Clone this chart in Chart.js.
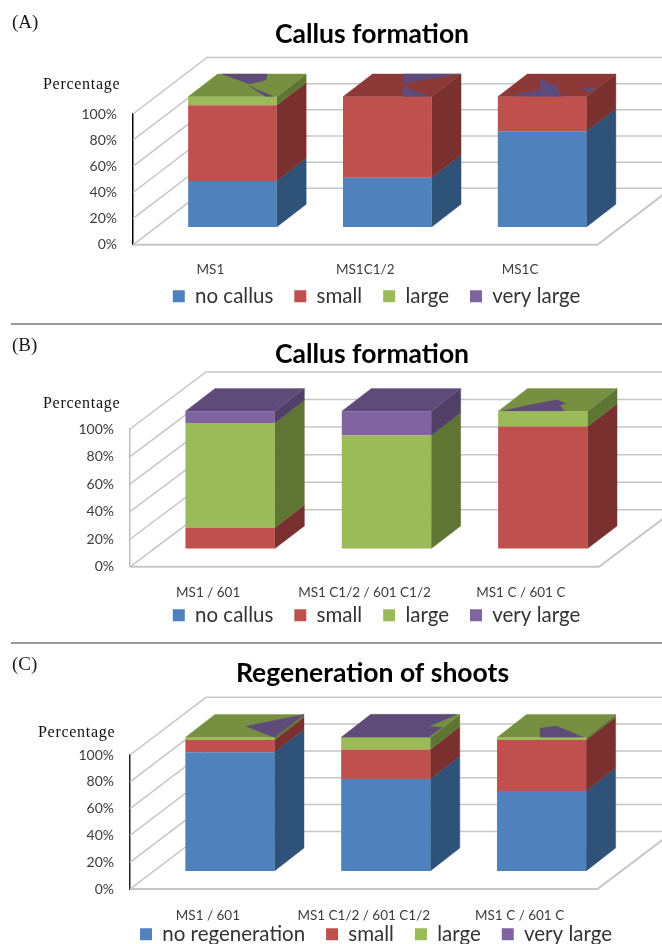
<!DOCTYPE html>
<html><head><meta charset="utf-8">
<style>
html,body{margin:0;padding:0;background:#fff;width:662px;height:944px;overflow:hidden}
canvas{position:absolute;left:0;filter:blur(0.35px)}
.tag,.ptitle{position:absolute;font-family:"Liberation Serif",serif;color:#1a1a1a;white-space:nowrap;filter:blur(0.3px)}
.tag{font-size:19px;line-height:22px}
.ptitle{font-size:16px;letter-spacing:.7px;line-height:18px;color:#111}
.rule{position:absolute;left:11px;right:0;height:2px;background:#9a9a9a}
</style>
</head><body>
<div class="tag" style="left:12px;top:11px">(A)</div>
<div class="tag" style="left:12px;top:334px">(B)</div>
<div class="tag" style="left:12px;top:653px">(C)</div>
<div class="ptitle" style="left:43px;top:75px">Percentage</div>
<div class="ptitle" style="left:43px;top:394px">Percentage</div>
<div class="ptitle" style="left:38px;top:723px">Percentage</div>
<div class="rule" style="top:323px"></div>
<div class="rule" style="top:642px"></div>
<canvas id="a" width="662" height="400" style="top:0"></canvas>
<canvas id="b" width="662" height="400" style="top:323px"></canvas>
<canvas id="c" width="662" height="400" style="top:642px"></canvas>
<script src="https://cdn.jsdelivr.net/npm/chart.js@4"></script>
<script>
// ---------- data ----------
const titleA = "Callus formation";
const titleB = "Callus formation";
const titleC = "Regeneration of shoots";
const categoriesA = ["MS1", "MS1C1/2", "MS1C"];
const categoriesB = ["MS1 / 601", "MS1 C1/2 / 601 C1/2", "MS1 C / 601 C"];
const categoriesC = ["MS1 / 601", "MS1 C1/2 / 601 C1/2", "MS1 C / 601 C"];
const seriesAB = ["no callus", "small", "large", "very large"];
const seriesC = ["no regeneration", "small", "large", "very large"];
const noneA = [35.5, 38, 73.5];
const smallA = [58, 62, 26.5];
const largeA = [6.5, 0, 0];
const veryLargeA = [0, 0, 0];
const noneB = [0, 0, 0];
const smallB = [15.5, 0, 89];
const largeB = [76, 82.5, 11];
const veryLargeB = [8.5, 17.5, 0];
const noneC = [89, 69, 60];
const smallC = [9, 22, 38];
const largeC = [2, 9, 2];
const veryLargeC = [0, 0, 0];
const yTicks = [0, 20, 40, 60, 80, 100];

// ---------- look ----------
const front = ["#4F81BD", "#C0504D", "#9BBB59", "#8064A2"];
const side  = ["#2F5279", "#7A302E", "#5F7533", "#503F66"];
const top3d = ["#3A618F", "#8C3836", "#778F41", "#5F4B7A"];
const patchColor = "#5F4B7A";
const wallColor = "#C6C6C6";
const textColor = "#3c3c3c";

// Rendering glitches on the bar caps of the original, as fractions of each cap (u across, v into depth)
const capGlitchA = [
  [[[.05,1],[.56,1],[.636,.735],[.505,.56]], [[.53,.47],[.967,0],[.88,0]]],
  [[[.346,1],[.986,1],[.483,.59]], [[.52,.47],[.986,0],[.678,0]]],
  [[[.13,.03],[.37,.32],[.22,.78],[.51,.47],[.72,0]], [[.81,.38],[.98,.38],[.99,.18]]]
];
const capGlitchB = [[], [], [[[.04,0],[.21,.22],[.49,.51],[.645,.34],[.6,.28],[.74,0]]]];
const capGlitchC = [
  [[[.52,.48],[1,1],[1,0]]],
  [[[0,0],[0,1],[.967,1],[.825,.48],[.99,.43],[.976,.07],[1,0]]],
  [[[.486,0],[.35,.4],[.5,.5],[.976,0]]]
];

function poly(ctx, pts, fill) {
  ctx.beginPath();
  pts.forEach((p, i) => i ? ctx.lineTo(p[0], p[1]) : ctx.moveTo(p[0], p[1]));
  ctx.closePath();
  ctx.fillStyle = fill;
  ctx.fill();
  ctx.strokeStyle = fill;
  ctx.lineWidth = 0.4;
  ctx.stroke();
}

function makeChart(id, cfg) {
  const canvas = document.getElementById(id);
  const H = canvas.height;
  const localTop = cfg.top - cfg.offset, localBottom = cfg.bottom - cfg.offset;
  const legendPad = cfg.legendPad;
  const legendH = 31.3 + legendPad;

  const box3d = {
    id: "box3d",
    afterLayout(chart) {
      const t = chart.titleBlock, l = chart.legend;
      t.top = cfg.titleY - cfg.offset - 16; t.bottom = t.top + t.height;
      const ts = cfg.titleX - (t.left + t.right) / 2;
      t.left += ts; t.right += ts;
      const ty = cfg.legendY - cfg.offset - legendPad - 10;
      l.top = ty; l.bottom = ty + l.height;
      const ls = cfg.legendX - (l.left + l.right) / 2;
      l.left += ls; l.right += ls;
    },
    beforeDatasetsDraw(chart) {
      const ctx = chart.ctx, y = chart.scales.y, a = chart.chartArea;
      ctx.save();
      ctx.strokeStyle = wallColor;
      ctx.lineWidth = 1.5;
      yTicks.forEach(v => {
        const py = y.getPixelForValue(v);
        ctx.beginPath();
        ctx.moveTo(a.left, py);
        ctx.lineTo(a.left + cfg.wallDx, py - cfg.wallDy);
        ctx.lineTo(chart.width, py - cfg.wallDy);
        ctx.stroke();
      });
      const py0 = y.getPixelForValue(0);
      ctx.lineWidth = 2;
      ctx.beginPath();
      ctx.moveTo(a.left, py0);
      ctx.lineTo(a.right, py0);
      ctx.lineTo(a.right + cfg.wallDx, py0 - cfg.wallDy);
      ctx.stroke();
      ctx.restore();

      ctx.save();
      ctx.translate(cfg.barDx, -cfg.barDy);
      const n = chart.data.labels.length;
      for (let i = 0; i < n; i++) {
        let capTop = null, capIdx = 0, xl = 0, xr = 0;
        chart.data.datasets.forEach((ds, k) => {
          const el = chart.getDatasetMeta(k).data[i];
          if (!ds.data[i]) return;
          xl = el.x - el.width / 2; xr = el.x + el.width / 2;
          poly(ctx, [[xr, el.y], [xr + cfg.depthDx, el.y - cfg.depthDy],
                     [xr + cfg.depthDx, el.base - cfg.depthDy], [xr, el.base]], side[k]);
          capTop = el.y; capIdx = k;
        });
        const w = xr - xl;
        poly(ctx, [[xl, capTop], [xl + cfg.depthDx, capTop - cfg.depthDy],
                   [xr + cfg.depthDx, capTop - cfg.depthDy], [xr, capTop]], top3d[capIdx]);
        cfg.glitch[i].forEach(p => poly(ctx,
          p.map(q => [xl + q[0] * w + q[1] * cfg.depthDx, capTop - q[1] * cfg.depthDy]), patchColor));
      }
    },
    afterDatasetsDraw(chart) { chart.ctx.restore(); }
  };

  return new Chart(canvas, {
    type: "bar",
    data: {
      labels: cfg.labels,
      datasets: cfg.series.map((name, k) => ({
        label: name, data: cfg.values[k], backgroundColor: front[k],
        borderWidth: 0, clip: false, stack: "s",
        barPercentage: 0.572, categoryPercentage: 1
      }))
    },
    options: {
      responsive: false, animation: false,
      layout: { padding: { left: 0, top: 0, bottom: 0, right: 662 - cfg.right } },
      plugins: {
        tooltip: { enabled: false },
        title: { display: true, text: cfg.title, color: "#000",
          font: { family: "Lato", size: 26.5, weight: "bold", lineHeight: 1.2 },
          padding: { top: 0, bottom: localTop - 31.8 } },
        legend: { display: true, position: "bottom", onClick: null,
          labels: { boxWidth: 12, boxHeight: 12, padding: legendPad, color: "#333",
            font: { family: "Lato", size: 20.5 } } }
      },
      scales: {
        x: { stacked: true,
          grid: { display: false }, border: { display: false },
          ticks: { display: true, color: textColor, font: { family: "Lato", size: 13.5 }, padding: cfg.xPad, maxRotation: 0, autoSkip: false },
          afterFit(s) { s.height = H - legendH - localBottom; } },
        y: { stacked: true, min: 0, max: 100,
          grid: { drawOnChartArea: false, drawTicks: false },
          border: { display: true, color: cfg.axisColor, width: 1.5 },
          ticks: { stepSize: 20, color: textColor, font: { family: "Lato", size: 14 }, padding: 16,
            callback: v => v + "%" },
          afterFit(s) { s.width = cfg.left; } }
      }
    },
    plugins: [box3d]
  });
}

Chart.defaults.font.family = "Lato";

makeChart("a", { offset: 0, left: 133, right: 597.5, top: 114, bottom: 244,
  title: titleA, labels: categoriesA, series: seriesAB,
  values: [noneA, smallA, largeA, veryLargeA], glitch: capGlitchA,
  titleX: 372, titleY: 35, legendX: 376.5, legendY: 296, legendPad: 21, xPad: 9,
  barDx: 22, barDy: 17.3, depthDx: 29.5, depthDy: 22.7, wallDx: 74, wallDy: 56.5, axisColor: "#000" });

makeChart("b", { offset: 323, left: 130, right: 599, top: 429, bottom: 566,
  title: titleB, labels: categoriesB, series: seriesAB,
  values: [noneB, smallB, largeB, veryLargeB], glitch: capGlitchB,
  titleX: 372, titleY: 355, legendX: 376.5, legendY: 615, legendPad: 21, xPad: 9.5,
  barDx: 22, barDy: 17.7, depthDx: 29.5, depthDy: 22.7, wallDx: 76, wallDy: 57, axisColor: "#bdbdbd" });

makeChart("c", { offset: 642, left: 130, right: 597.5, top: 755, bottom: 888.3,
  title: titleC, labels: categoriesC, series: seriesC,
  values: [noneC, smallC, largeC, veryLargeC], glitch: capGlitchC,
  titleX: 372.5, titleY: 674, legendX: 376, legendY: 934, legendPad: 21, xPad: 10,
  barDx: 22, barDy: 17.6, depthDx: 29.5, depthDy: 23, wallDx: 76, wallDy: 57.7, axisColor: "#222" });
</script>
</body></html>
